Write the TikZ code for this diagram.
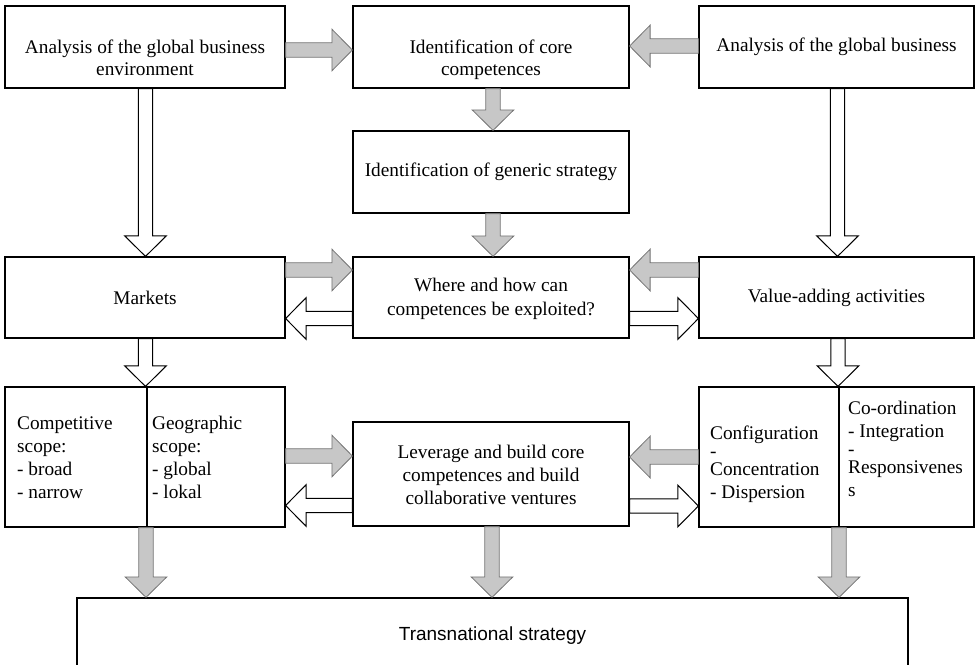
\documentclass[tikz,border=0pt]{standalone}
\usepackage{fontspec}
\setmainfont{Liberation Serif}
\newfontfamily\arialf{Liberation Sans}
\usetikzlibrary{calc}

\def\sh{7.2pt}
\def\hh{20.8pt}
\def\hl{20.5pt}

% horizontal block arrow: #1 style, #2 start point, #3 tip point (same y)
\newcommand\harrow[3]{%
  \draw[#1] let \p1=(#2), \p2=(#3), \n1={ifthenelse(\x2>\x1,1,-1)} in
    (\x1,\y1+\sh) -- ({\x2-(\n1)*\hl},\y1+\sh) -- ({\x2-(\n1)*\hl},\y1+\hh)
    -- (\x2,\y1) -- ({\x2-(\n1)*\hl},\y1-\hh) -- ({\x2-(\n1)*\hl},\y1-\sh)
    -- (\x1,\y1-\sh) -- cycle;}
% vertical block arrow: #1 style, #2 start point, #3 tip point (same x)
\newcommand\varrow[3]{%
  \draw[#1] let \p1=(#2), \p2=(#3), \n1={ifthenelse(\y2>\y1,1,-1)} in
    (\x1+\sh,\y1) -- (\x1+\sh,{\y2-(\n1)*\hl}) -- (\x1+\hh,{\y2-(\n1)*\hl})
    -- (\x1,\y2) -- (\x1-\hh,{\y2-(\n1)*\hl}) -- (\x1-\sh,{\y2-(\n1)*\hl})
    -- (\x1-\sh,\y1) -- cycle;}

\tikzset{
  box/.style={draw=black, line width=1.2pt, fill=white, inner sep=0pt},
  ctxt/.style={inner sep=0pt, align=center, font=\fontsize{19.3}{22.5}\selectfont},
  ltxt/.style={inner sep=0pt, align=left, anchor=base west, font=\fontsize{19.3}{23}\selectfont},
  garrow/.style={fill=black!22, draw=black!55, line width=0.8pt, line join=miter},
  warrow/.style={fill=white, draw=black, line width=1pt, line join=miter},
}

\begin{document}
\begin{tikzpicture}[x=1pt,y=-1pt]
\useasboundingbox (0,0) rectangle (977,664);
\clip (0,0) rectangle (977,664);

% boxes
\node[box, minimum width=280, minimum height=82] (A1) at (145,47) {};
\node[box, minimum width=276, minimum height=82] (B1) at (491,47) {};
\node[box, minimum width=275, minimum height=82] (C1) at (836.5,47) {};
\node[box, minimum width=276, minimum height=82] (G) at (491,172) {};
\node[box, minimum width=280, minimum height=81] (Mk) at (145,297.5) {};
\node[box, minimum width=276, minimum height=81] (Wh) at (491,297.5) {};
\node[box, minimum width=275, minimum height=81] (Va) at (836.5,297.5) {};
\node[box, minimum width=280, minimum height=140] (L4) at (145,457) {};
\node[box, minimum width=276, minimum height=104] (Lv) at (491,474) {};
\node[box, minimum width=275, minimum height=140] (R4) at (836.5,457) {};
\node[box, minimum width=831, minimum height=100] (T) at (492.5,648) {};

% dividers
\draw[line width=1.2pt] (L4.north -| 147,0) -- (L4.south -| 147,0);
\draw[line width=1.2pt] (R4.north -| 839,0) -- (R4.south -| 839,0);

% texts (base anchor = baseline of the last line)
\node[ctxt, anchor=base] (A1t) at (145,75.5) {Analysis of the global business\\environment};
\node[ctxt, anchor=base] (B1t) at (491,75.5) {Identification of core\\competences};
\node[ctxt, anchor=base] (C1t) at (836.5,51.5) {Analysis of the global business};
\node[ctxt] (Gt) at (G) {Identification of generic strategy};
\node[ctxt] (Mkt) at (Mk) {Markets};
\node[ctxt, font=\fontsize{19.3}{24}\selectfont] (Wht) at (491,299) {Where and how can\\competences be exploited?};
\node[ctxt] (Vat) at (Va) {Value-adding activities};
\node[ctxt, font=\fontsize{19.3}{23}\selectfont] (Lvt) at (491,475) {Leverage and build core\\competences and build\\collaborative ventures};
\node[ltxt] (L4a) at (17,498.5) {Competitive\\scope:\\- broad\\- narrow};
\node[ltxt] (L4b) at (152,498.5) {Geographic\\scope:\\- global\\- lokal};
\node[ltxt] (R4a) at (710,498.5) {Configuration\\[-5pt]-\\[-5pt]Concentration\\- Dispersion};
\node[ltxt] (R4b) at (848,496.5) {Co-ordination\\- Integration\\[-5pt]-\\[-5pt]Responsivenes\\s};
\node[inner sep=0pt, font=\arialf\fontsize{19}{22}\selectfont] (Tt) at (492.5,636) {Transnational strategy};

% grey arrows
\harrow{garrow}{A1.east |- 0,50}{B1.west |- 0,50}
\harrow{garrow}{C1.west |- 0,46}{B1.east |- 0,46}
\varrow{garrow}{B1.south -| 493,0}{G.north -| 493,0}
\varrow{garrow}{G.south -| 493,0}{Wh.north -| 493,0}
\harrow{garrow}{Mk.east |- 0,270}{Wh.west |- 0,270}
\harrow{garrow}{Va.west |- 0,270}{Wh.east |- 0,270}
\harrow{garrow}{L4.east |- 0,456}{Lv.west |- 0,456}
\harrow{garrow}{R4.west |- 0,457}{Lv.east |- 0,457}
\varrow{garrow}{L4.south -| 146,0}{T.north -| 146,0}
\varrow{garrow}{Lv.south -| 492,0}{T.north -| 492,0}
\varrow{garrow}{R4.south -| 839,0}{T.north -| 839,0}

% white arrows
\varrow{warrow}{A1.south -| 145.5,0}{Mk.north -| 145.5,0}
\varrow{warrow}{C1.south -| 837.5,0}{Va.north -| 837.5,0}
\harrow{warrow}{Wh.west |- 0,318.5}{Mk.east |- 0,318.5}
\harrow{warrow}{Wh.east |- 0,318.5}{Va.west |- 0,318.5}
\varrow{warrow}{Mk.south -| 145.5,0}{L4.north -| 145.5,0}
\varrow{warrow}{Va.south -| 838,0}{R4.north -| 838,0}
\harrow{warrow}{Lv.west |- 0,505.5}{L4.east |- 0,505.5}
\harrow{warrow}{Lv.east |- 0,506}{R4.west |- 0,506}
\end{tikzpicture}
\end{document}
